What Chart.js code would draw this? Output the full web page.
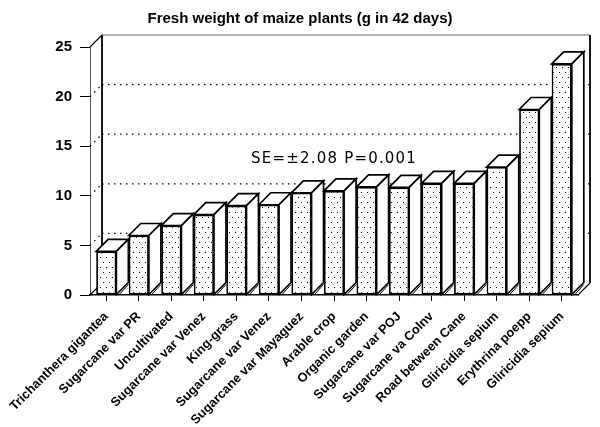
<!DOCTYPE html>
<html><head><meta charset="utf-8">
<script src="https://cdn.jsdelivr.net/npm/chart.js@4"></script>
<style>html,body{margin:0;padding:0;background:#fff}#wrap{width:600px;height:427px}</style>
</head><body><div id="wrap"><canvas id="c" width="600" height="427"></canvas></div>
<script>
const categories = [
  'Trichanthera gigantea', 'Sugarcane var PR', 'Uncultivated', 'Sugarcane var Venez',
  'King-grass', 'Sugarcane var Venez', 'Sugarcane var Mayaguez', 'Arable crop',
  'Organic garden', 'Sugarcane var POJ', 'Sugarcane va Colnv', 'Road between Cane',
  'Gliricidia sepium', 'Erythrina poepp', 'Gliricidia sepium'
];
const freshWeight = [4.4, 6.0, 7.0, 8.1, 9.0, 9.1, 10.3, 10.5, 10.9, 10.85, 11.25, 11.25, 12.9, 18.7, 23.3];
const yTicks = [0, 5, 10, 15, 20, 25];
const gridValues = [5, 10, 15, 20];
const chartTitle = 'Fresh weight of maize plants (g in 42 days)';
const annotationText = 'SE=\u00b12.08 P=0.001';
const annotationIndex = 4.45;
const annotationValue = 13.7;

const DX = 12, DY = 12;

const canvas = document.getElementById('c');
const ctx = canvas.getContext('2d');

const pc = document.createElement('canvas');
pc.width = 6; pc.height = 10;
const pctx = pc.getContext('2d');
pctx.fillStyle = '#fff'; pctx.fillRect(0, 0, 6, 10);
pctx.fillStyle = '#000';
pctx.fillRect(1, 2, 1, 1);
pctx.fillRect(4, 7, 1, 1);
const dotPattern = ctx.createPattern(pc, 'repeat');

const backWall = {
  id: 'backWall',
  beforeDatasetsDraw(chart) {
    const c = chart.ctx;
    const { left, right, top, bottom } = chart.chartArea;
    const y = chart.scales.y;
    c.save();
    c.strokeStyle = '#000';
    c.lineWidth = 1.3;
    c.setLineDash([1.5, 4.5]);
    gridValues.forEach(v => {
      const yp = y.getPixelForValue(v);
      c.beginPath();
      c.moveTo(left + DX, yp - DY); c.lineTo(right + DX, yp - DY);
      c.moveTo(left, yp); c.lineTo(left + DX, yp - DY);
      c.stroke();
    });
    c.setLineDash([]);
    c.lineWidth = 1;
    c.strokeStyle = '#666';
    c.beginPath();
    c.moveTo(left + DX, top - DY); c.lineTo(right + DX, top - DY);
    c.stroke();
    c.strokeStyle = '#000';
    c.lineWidth = 1.8;
    c.beginPath();
    c.moveTo(left + DX, top - DY); c.lineTo(left + DX, bottom - DY);
    c.moveTo(right + DX, top - DY); c.lineTo(right + DX, bottom - DY);
    c.stroke();
    c.lineWidth = 1.2;
    c.beginPath();
    c.moveTo(left, top); c.lineTo(left + DX, top - DY);
    c.moveTo(left, bottom); c.lineTo(left + DX, bottom - DY);
    c.moveTo(right, bottom); c.lineTo(right + DX, bottom - DY);
    c.stroke();
    c.restore();
  }
};

const bars3d = {
  id: 'bars3d',
  afterDatasetsDraw(chart) {
    const c = chart.ctx;
    const meta = chart.getDatasetMeta(0);
    c.save();
    c.strokeStyle = '#000';
    c.lineWidth = 1.7;
    c.lineJoin = 'miter';
    meta.data.forEach(bar => {
      const { x, y, base, width } = bar.getProps(['x', 'y', 'base', 'width'], true);
      const L = x - width / 2, R = x + width / 2;
      c.beginPath();
      c.moveTo(L, y); c.lineTo(L + DX, y - DY); c.lineTo(R + DX, y - DY); c.lineTo(R, y); c.closePath();
      c.fillStyle = '#fff'; c.fill(); c.stroke();
      c.beginPath();
      c.moveTo(R, y); c.lineTo(R + DX, y - DY); c.lineTo(R + DX, base - DY); c.lineTo(R, base); c.closePath();
      c.fillStyle = '#fff'; c.fill(); c.stroke();
      c.beginPath();
      c.moveTo(R + 3, base); c.lineTo(R + DX, base - DY + 2);
      c.lineWidth = 1; c.stroke(); c.lineWidth = 1.7;
    });
    c.restore();
  }
};

const annotation = {
  id: 'annotation',
  afterDraw(chart) {
    const c = chart.ctx;
    const xp = chart.scales.x.getPixelForValue(annotationIndex);
    const yp = chart.scales.y.getPixelForValue(annotationValue);
    c.save();
    c.font = '15px "DejaVu Sans"';
    c.letterSpacing = '1.2px';
    c.fillStyle = '#000';
    c.textAlign = 'left';
    c.textBaseline = 'middle';
    c.fillText(annotationText, xp, yp);
    c.restore();
  }
};

new Chart(ctx, {
  type: 'bar',
  data: {
    labels: categories,
    datasets: [{
      data: freshWeight,
      backgroundColor: dotPattern,
      borderColor: '#000',
      borderWidth: 1.8,
      borderSkipped: false,
      barPercentage: 0.62,
      categoryPercentage: 1.0
    }]
  },
  options: {
    responsive: false,
    animation: false,
    events: [],
    layout: { padding: { left: 0, right: 0, top: 0, bottom: 0 } },
    plugins: {
      legend: { display: false },
      tooltip: { enabled: false },
      title: {
        display: true,
        text: chartTitle,
        color: '#000',
        font: { family: 'Liberation Sans', weight: 'bold', size: 15, lineHeight: 1.2 },
        padding: { top: 10, bottom: 19 }
      }
    },
    scales: {
      x: {
        offset: true,
        grid: { display: true, drawOnChartArea: false, drawTicks: true, tickLength: 6, color: '#000', offset: false },
        border: { display: true, color: '#000', width: 1.5 },
        ticks: {
          autoSkip: false, maxRotation: 45, minRotation: 45, padding: 8, color: '#000',
          font: { family: 'Liberation Sans', weight: 'bold', size: 12.8 }
        },
        afterFit: s => { s.height = 132; }
      },
      y: {
        min: yTicks[0], max: yTicks[yTicks.length - 1],
        afterBuildTicks: s => { s.ticks = yTicks.map(v => ({ value: v })); },
        grid: { drawOnChartArea: false, drawTicks: true, tickLength: 10, color: '#000' },
        border: { display: true, color: '#555', width: 1 },
        ticks: {
          padding: 8, color: '#000',
          font: { family: 'Liberation Sans', weight: 'bold', size: 15 }
        },
        afterFit: s => { s.width = 90; }
      },
      yRight: {
        position: 'right',
        display: true,
        grid: { display: false },
        border: { display: false },
        ticks: { display: false },
        afterFit: s => { s.width = 22; }
      }
    }
  },
  plugins: [backWall, bars3d, annotation]
});
</script>
</body></html>
